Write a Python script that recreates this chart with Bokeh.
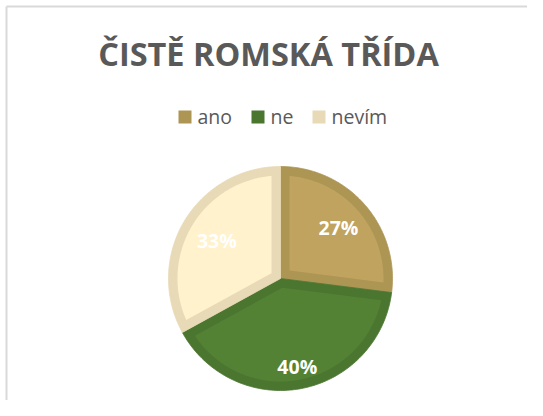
import math
from bokeh.plotting import figure
from bokeh.models import Range1d
from bokeh.core.properties import value
from bokeh.embed import file_html
from bokeh.resources import INLINE

# ---- data ----
title_text = "ČISTĚ ROMSKÁ TŘÍDA"
categories = ["ano", "ne", "nevím"]
values = [27, 40, 33]
fill_colors = ["#BFA35F", "#548235", "#FFF2CC"]
edge_colors = ["#AD9554", "#4B7630", "#E8DAB6"]

# ---- layout constants (picture pixels) ----
W, H = 527, 400
CX, CY, R, BW = 280, 278, 112, 9
LABEL_FRAC = [0.69, 0.80, 0.66]
LEG_X = [178, 251, 312]
LEG_Y = 116.5
SW = 13
FONT = "Open Sans"
GREY = "#595959"

p = figure(width=W, height=H, output_backend="svg", toolbar_location=None,
           x_range=Range1d(0, W), y_range=Range1d(H, 0),
           min_border=0)
p.xaxis.visible = False
p.yaxis.visible = False
p.grid.visible = False
p.outline_line_color = None
p.background_fill_color = "white"
p.border_fill_color = "white"

# chart area frame (left and top edges visible)
p.segment(x0=[6, 6], y0=[6, 6], x1=[6, W + 10], y1=[H + 10, 6],
          line_color="#D9D9D9", line_width=2)


def pt(r, a, ox=CX, oy=CY):
    return ox + r * math.sin(a), oy - r * math.cos(a)


total = float(sum(values))
outer_xs, outer_ys, inner_xs, inner_ys = [], [], [], []
lab_x, lab_y, lab_t = [], [], []
acc = 0.0
for i, v in enumerate(values):
    a1 = 2 * math.pi * acc / total
    a2 = 2 * math.pi * (acc + v) / total
    acc += v
    n = 120
    xs, ys = [CX], [CY]
    for k in range(n + 1):
        x, y = pt(R, a1 + (a2 - a1) * k / n)
        xs.append(x); ys.append(y)
    outer_xs.append(xs); outer_ys.append(ys)
    half = (a2 - a1) / 2
    mid = a1 + half
    d = BW / math.sin(half) if half < math.pi / 2 else BW
    ax, ay = pt(d, mid)
    ri = R - BW
    dl = math.asin(BW / ri)
    xs, ys = [ax], [ay]
    for k in range(n + 1):
        x, y = pt(ri, a1 + dl + (a2 - a1 - 2 * dl) * k / n)
        xs.append(x); ys.append(y)
    inner_xs.append(xs); inner_ys.append(ys)
    lx, ly = pt(R * LABEL_FRAC[i], mid)
    lab_x.append(lx); lab_y.append(ly)
    lab_t.append("%d%%" % round(100 * v / total))

p.patches(outer_xs, outer_ys, fill_color=edge_colors, line_color=edge_colors, line_width=0.8)
p.patches(inner_xs, inner_ys, fill_color=fill_colors, line_color=None)

p.text(x=lab_x, y=lab_y, text=lab_t, text_color="white", text_font=value(FONT),
       text_font_style="bold", text_font_size="19.5px", text_align="center",
       text_baseline="middle")

# title
p.text(x=[268], y=[53], text=[title_text], text_color=GREY, text_font=value(FONT),
       text_font_style="bold", text_font_size="32.5px", text_align="center",
       text_baseline="middle")

# legend
p.rect(x=[x + SW / 2 for x in LEG_X], y=[LEG_Y] * 3, width=SW, height=SW,
       fill_color=edge_colors, line_color=None)
p.text(x=[x + SW + 6 for x in LEG_X], y=[LEG_Y - 1] * 3, text=categories,
       text_color=GREY, text_font=value(FONT), text_font_size="19.5px",
       text_align="left", text_baseline="middle")

open("out.html", "w").write(file_html(p, INLINE))
